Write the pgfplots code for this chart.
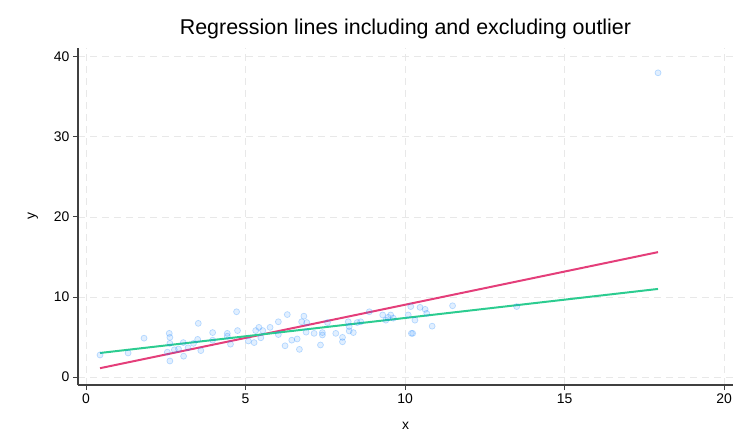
\documentclass[border=0pt]{standalone}
\usepackage{fontspec}
\setmainfont{Liberation Sans}
\usepackage{pgfplots}
\pgfplotsset{compat=1.18}

\definecolor{ptblue}{RGB}{26,133,255}
\definecolor{lnmag}{RGB}{228,62,122}
\definecolor{lngrn}{RGB}{44,204,144}
\definecolor{gridc}{RGB}{232,232,232}

\begin{document}
\begin{tikzpicture}
\begin{axis}[
  scale only axis,
  width=655bp, height=337bp,
  xmin=-0.25, xmax=20.28,
  ymin=-1, ymax=41.1,
  xtick={0,5,10,15,20},
  ytick={0,10,20,30,40},
  axis x line*=bottom, axis y line*=left,
  axis line style={black!75, line width=1.1pt, -},
  tick style={black!75, line width=0.9pt},
  tick align=outside,
  major tick length=5bp,
  grid=major,
  grid style={gridc, dashed, dash pattern=on 7bp off 5bp, line width=0.8pt},
  tick label style={font=\fontsize{14}{16}\selectfont},
  /pgf/number format/assume math mode=true,
  xlabel={x}, ylabel={y},
  label style={font=\fontsize{14}{16}\selectfont},
  xlabel style={yshift=-12bp},
  ylabel style={yshift=9bp},
  title={Regression lines including and excluding outlier},
  title style={font=\fontsize{21.5}{24}\selectfont, yshift=0bp},
  clip=false,
]
\addplot[only marks, mark=*, mark size=3bp,
  mark options={draw=ptblue, fill=ptblue, draw opacity=0.28, fill opacity=0.13, line width=0.7pt}]
coordinates {
(0.44,2.75) (1.32,3.0) (1.82,4.85) (2.61,5.45) (2.63,4.95) (2.63,4.2)
(2.55,3.1) (2.63,2.0) (2.77,3.4) (2.9,3.5) (3.05,4.3) (3.06,2.6)
(3.2,3.65) (3.37,4.2) (3.52,6.7) (3.5,4.7) (3.6,3.3) (3.97,5.55)
(3.97,4.6) (4.43,5.45) (4.43,5.1) (4.53,4.1) (4.72,8.15) (4.75,5.8)
(5.09,4.5) (5.27,4.3) (5.32,5.8) (5.42,6.2) (5.48,4.9) (5.54,5.8)
(5.77,6.2) (6.03,6.9) (6.03,5.3) (6.24,3.9) (6.31,7.8) (6.45,4.6)
(6.62,4.75) (6.69,3.45) (6.76,6.9) (6.83,7.6) (6.92,6.8) (6.9,5.6)
(7.15,5.45) (7.35,4.0) (7.41,5.55) (7.41,5.25) (7.57,6.8) (7.83,5.45)
(8.04,4.95) (8.04,4.4) (8.22,6.9) (8.25,6.3) (8.25,5.75) (8.38,5.55)
(8.5,6.8) (8.61,6.9) (8.88,8.15) (9.3,7.75) (9.4,7.1) (9.47,7.45)
(9.55,7.75) (9.63,7.35) (10.1,7.75) (10.18,8.8) (10.2,5.45) (10.24,5.45)
(10.31,7.1) (10.47,8.7) (10.63,8.45) (10.68,7.95) (10.85,6.35) (11.49,8.9)
(13.5,8.8) (17.93,38.0)
};
\addplot[lnmag, line width=2pt] coordinates {(0.44,1.1) (17.93,15.6)};
\addplot[lngrn, line width=2pt] coordinates {(0.44,3.0) (17.93,11.0)};
\end{axis}
\pgfresetboundingbox
\useasboundingbox (-78bp,-63bp) rectangle (662bp,385bp);
\end{tikzpicture}
\end{document}
